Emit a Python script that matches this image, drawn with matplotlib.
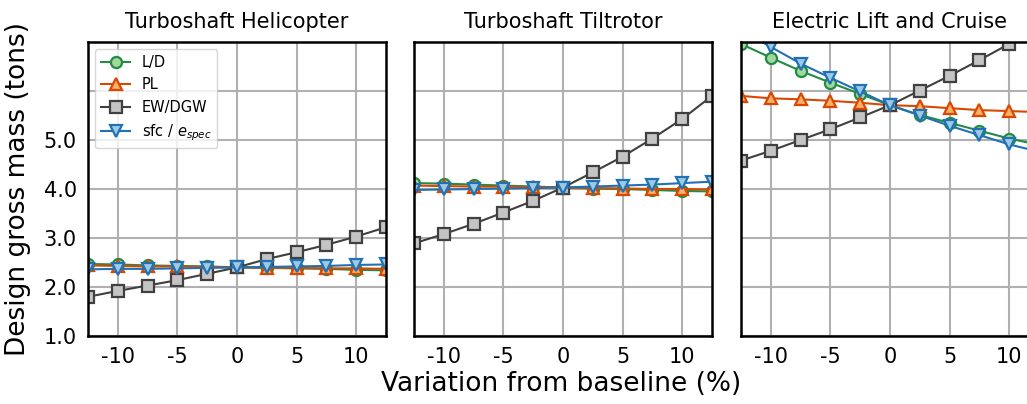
import numpy as np
import matplotlib
matplotlib.use("Agg")
import matplotlib.pyplot as plt

variation = [-12.5, -10, -7.5, -5, -2.5, 0, 2.5, 5, 7.5, 10, 12.5]

titles = ["Turboshaft Helicopter", "Turboshaft Tiltrotor", "Electric Lift and Cruise"]

# design gross mass (tons) per panel
ld = [
    [2.47, 2.46, 2.44, 2.43, 2.42, 2.40, 2.39, 2.38, 2.37, 2.35, 2.34],
    [4.12, 4.11, 4.09, 4.07, 4.05, 4.03, 4.01, 4.00, 3.98, 3.96, 3.95],
    [6.96, 6.68, 6.41, 6.17, 5.94, 5.71, 5.51, 5.35, 5.19, 5.03, 4.90],
]
pl = [
    [2.44, 2.43, 2.42, 2.42, 2.41, 2.40, 2.39, 2.39, 2.38, 2.38, 2.37],
    [4.07, 4.06, 4.05, 4.05, 4.04, 4.03, 4.02, 4.01, 4.00, 4.00, 3.99],
    [5.90, 5.85, 5.83, 5.80, 5.76, 5.71, 5.69, 5.65, 5.61, 5.59, 5.57],
]
ew = [
    [1.80, 1.92, 2.03, 2.14, 2.27, 2.40, 2.57, 2.71, 2.86, 3.03, 3.22],
    [2.89, 3.08, 3.29, 3.52, 3.76, 4.03, 4.34, 4.66, 5.03, 5.43, 5.90],
    [4.58, 4.78, 5.00, 5.22, 5.46, 5.71, 6.01, 6.31, 6.63, 6.96, 7.29],
]
sfc = [
    [2.36, 2.37, 2.37, 2.38, 2.39, 2.40, 2.41, 2.42, 2.43, 2.45, 2.46],
    [3.98, 3.99, 4.00, 4.01, 4.02, 4.03, 4.05, 4.07, 4.09, 4.12, 4.15],
    [7.24, 6.90, 6.56, 6.27, 5.99, 5.71, 5.50, 5.29, 5.10, 4.91, 4.76],
]

series = [
    ("L/D", ld, "o", "#238b45", "#a1d99b"),
    ("PL", pl, "^", "#d94801", "#fdae6b"),
    ("EW/DGW", ew, "s", "#404040", "#c4c4c4"),
    ("sfc / $e_{spec}$", sfc, "v", "#2171b5", "#9ecae1"),
]

fig = plt.figure(figsize=(10.27, 4.04), dpi=100)
lefts = [88, 414, 741]
axes = []
for i in range(3):
    ax = fig.add_axes([lefts[i] / 1027, 68 / 404, 298 / 1027, 294 / 404])
    axes.append(ax)
    for name, data, mk, ec, fc in series:
        ax.plot(variation, data[i], marker=mk, color=ec, mfc=fc, mec=ec,
                ms=8, mew=1.6, lw=1.5, label=name)
    ax.set_xlim(-12.5, 12.5)
    ax.set_ylim(1.0, 7.0)
    ax.set_xticks([-10, -5, 0, 5, 10])
    ax.set_xticklabels(["-10", "-5", "0", "5", "10"])
    ax.set_yticks([1, 2, 3, 4, 5, 6])
    ax.grid(True, color="#b0b0b0", lw=1.5)
    ax.set_axisbelow(True)
    ax.tick_params(length=0, labelsize=15, pad=8)
    for s in ax.spines.values():
        s.set_linewidth(1.8)
        s.set_color("black")
    ax.set_title(titles[i], fontsize=15, pad=10)
    if i == 0:
        ax.set_yticklabels(["1.0", "2.0", "3.0", "4.0", "5.0", ""])
        ax.set_ylabel("Design gross mass (tons)", fontsize=19)
        ax.yaxis.set_label_coords(-0.19, 0.5)
        ax.legend(loc="upper left", fontsize=10.5, handlelength=2.0, framealpha=0.8)
    else:
        ax.set_yticklabels([])

fig.text(561 / 1027, 20 / 404, "Variation from baseline (%)", ha="center",
         va="center", fontsize=19)

fig.savefig("out.png", dpi=100)
